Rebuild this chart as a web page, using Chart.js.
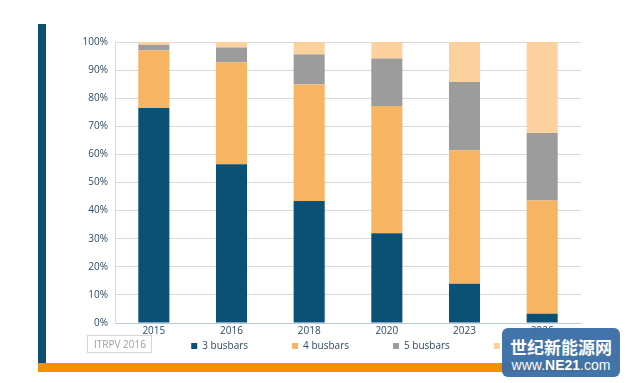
<!DOCTYPE html>
<html><head><meta charset="utf-8">
<script src="https://cdn.jsdelivr.net/npm/chart.js@4"></script>
<style>
html,body{margin:0;padding:0;width:626px;height:383px;overflow:hidden;background:#fff;font-family:"Open Sans",sans-serif;}
#wrap{position:absolute;left:60px;top:0;width:622px;height:361px;}
#vbar{position:absolute;left:38px;top:24px;width:8px;height:339px;background:#0b5075;}
#hbar{position:absolute;left:38px;top:363px;width:552px;height:9px;background:#f29100;}
#src{position:absolute;left:87px;top:335px;width:65px;height:18px;border:1px solid #d6d6d6;box-sizing:border-box;font-size:10px;color:#a0a0a0;line-height:16px;padding-left:6px;}
#wm{position:absolute;left:502px;top:328px;width:118px;height:49px;background:#3b6ea6;border-radius:6px;color:#fff;text-align:center;opacity:0.96;}
#wm .a{font-family:"Noto Sans CJK SC",sans-serif;font-weight:bold;font-size:17px;line-height:20px;margin-top:9px;white-space:nowrap;}
#wm .b{font-family:"Liberation Sans",sans-serif;font-size:14px;line-height:17px;white-space:nowrap;}
</style></head>
<body>
<div id="vbar"></div>
<div id="wrap"><canvas id="c" width="622" height="361"></canvas></div>
<div id="hbar"></div>
<div id="src">ITRPV 2016</div>
<div id="wm"><div class="a">世纪新能源网</div><div class="b">www.<b>NE21</b>.com</div></div>
<script>
const categories = ["2015","2016","2018","2020","2023","2026"];
const seriesNames = ["3 busbars","4 busbars","5 busbars","6 busbars"];
const busbars3 = [76.5, 56.5, 43.4, 31.9, 14.0, 3.3];
const busbars4 = [20.5, 36.3, 41.5, 45.3, 47.5, 40.3];
const busbars5 = [2.0, 5.2, 10.7, 16.9, 24.3, 24.0];
const busbars6 = [1.0, 2.0, 4.4, 5.9, 14.2, 32.4];
const colors = ["#0b5075","#f7b462","#9c9c9c","#fdd19d"];
const allSeries = [busbars3,busbars4,busbars5,busbars6];

const FONT = {family: 'Open Sans', size: 10};
const mctx = document.createElement('canvas').getContext('2d');
mctx.font = '10px "Open Sans"';
function padText(t, target) {
  let s = t;
  while (mctx.measureText(s).width < target) s += '\u200A';
  return s;
}

new Chart(document.getElementById('c'), {
  type: 'bar',
  data: {
    labels: categories,
    datasets: allSeries.map((d,i)=>({label: seriesNames[i], data: d, backgroundColor: colors[i], barPercentage: 0.4, categoryPercentage: 1.0, borderWidth: 0}))
  },
  options: {
    responsive: false,
    animation: false,
    devicePixelRatio: 1,
    layout: {padding: {top: 42, left: 0, right: 0, bottom: 0}},
    plugins: {
      tooltip: {enabled: false},
      legend: {
        position: 'bottom',
        align: 'center',
        labels: {
          boxWidth: 6, boxHeight: 6, padding: 2, color: '#2d4b63', font: FONT,
          generateLabels: chart => {
            const items = Chart.defaults.plugins.legend.labels.generateLabels(chart);
            items.forEach((it, i) => { if (i < items.length - 1) it.text = padText(it.text, 87); });
            return items;
          }
        }
      }
    },
    scales: {
      x: {
        stacked: true,
        grid: {display: false, drawTicks: false},
        border: {color: '#b9cadb'},
        ticks: {color: '#2d4b63', font: FONT, padding: 2}
      },
      y: {
        stacked: true, min: 0, max: 100,
        afterFit: s => { s.width = 55; },
        grid: {color: '#d9d9d9', drawTicks: false},
        border: {color: '#d9d9d9'},
        ticks: {stepSize: 10, color: '#2d4b63', font: FONT, padding: 7, callback: v => v + '%'}
      },
      y2: {
        position: 'right', display: true,
        afterFit: s => { s.width = 101; },
        grid: {display: false, drawTicks: false},
        border: {display: false},
        ticks: {display: false}
      }
    }
  }
});
</script>
</body></html>
